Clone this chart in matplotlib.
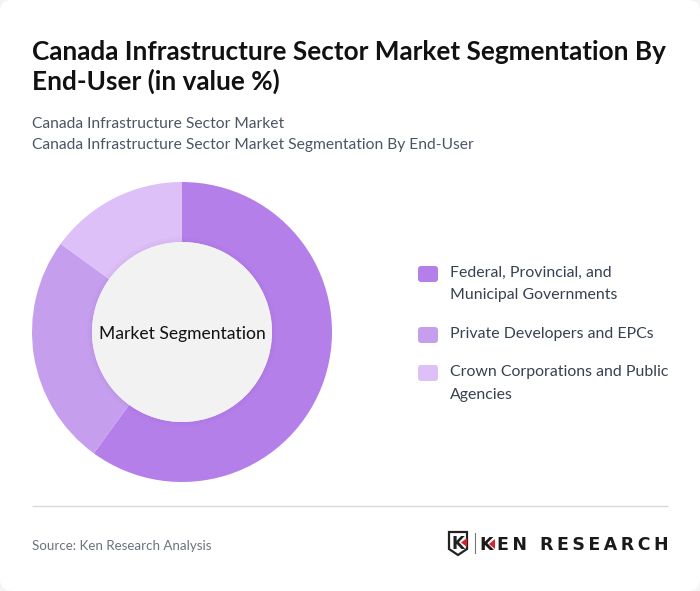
#!/usr/bin/env python3
"""Canada infrastructure end-user segmentation donut, drawn in pixel coordinates."""
import matplotlib
matplotlib.use('Agg')
import matplotlib.pyplot as plt
from matplotlib.patches import Circle, FancyBboxPatch, Polygon

W, H = 700, 591

title_lines = ["Canada Infrastructure Sector Market Segmentation By", "End-User (in value %)"]
subtitle_lines = ["Canada Infrastructure Sector Market", "Canada Infrastructure Sector Market Segmentation By End-User"]
center_label = "Market Segmentation"
source_text = "Source: Ken Research Analysis"
logo_text = "KEN RESEARCH"

segments = ["Federal, Provincial, and\nMunicipal Governments",
            "Private Developers and EPCs",
            "Crown Corporations and Public\nAgencies"]
shares = [60, 25, 15]
colors = ["#b57fea", "#c59eee", "#dcc0f7"]


def py(y):
    # picture rows run downward, the axes run upward
    return H - y


plt.rcParams['font.family'] = ['Lato', 'DejaVu Sans']
fig = plt.figure(figsize=(7.0, 5.91), dpi=100, facecolor='#f4f4f6')
ax = fig.add_axes([0, 0, 1, 1])

# white card with rounded corners
card = FancyBboxPatch((0, 0), W, H, boxstyle="round,pad=0,rounding_size=12",
                      facecolor='white', edgecolor='none', zorder=0)
ax.add_patch(card)

for i, line in enumerate(title_lines):
    ax.text(32, py(60 + i * 30), line, fontsize=18.83, fontweight='bold', color='#111111', va='baseline')
for i, line in enumerate(subtitle_lines):
    ax.text(32, py(128 + i * 21), line, fontsize=11.27, color='#4b5563', va='baseline')

# donut
cx, cy = 182, py(332)
ax.pie(shares, colors=colors, startangle=90, counterclock=False, center=(cx, cy), radius=150,
       wedgeprops=dict(width=60, linewidth=0))
for r, a in [(95, 0.015), (93, 0.025), (91, 0.03)]:
    ax.add_patch(Circle((cx, cy), r, facecolor='#6b3fa0', edgecolor='none', alpha=a, zorder=3))
ax.add_patch(Circle((cx, cy), 90, facecolor='#f2f2f2', edgecolor='none', zorder=4))
ax.text(cx, py(334), center_label, fontsize=12.6, color='#111111', ha='center', va='center', zorder=5)

# legend
swatch_tops = [266, 327, 365]
text_rows = [[277, 299], [338], [376, 399]]
for name, color, top, rows in zip(segments, colors, swatch_tops, text_rows):
    ax.add_patch(FancyBboxPatch((418, py(top + 16)), 20, 16, boxstyle="round,pad=0,rounding_size=3",
                                facecolor=color, edgecolor='none'))
    for line, row in zip(name.split("\n"), rows):
        ax.text(450, py(row), line, fontsize=11.46, color='#374151', va='baseline')

# footer
ax.plot([32, 668], [py(506), py(506)], color='#d9d9d9', linewidth=1, solid_capstyle='butt')
ax.text(32, py(550), source_text, fontsize=9.62, color='#6b7280', va='baseline')

# logo
shield = [(449, py(532)), (467, py(532)), (467, py(549)), (458, py(555)), (449, py(549))]
ax.add_patch(Polygon(shield, closed=True, facecolor='none', edgecolor='#222222', linewidth=1.6))
ax.text(458, py(549), "K", fontsize=12, fontweight='bold', color='#222222', ha='center', va='baseline',
        family='DejaVu Sans')
ax.add_patch(Polygon([(467, py(538)), (467, py(547)), (461, py(542.5))], closed=True,
                     facecolor='#d8232a', edgecolor='none'))
ax.plot([474.5, 474.5], [py(533), py(553)], color='#777777', linewidth=0.8)
ax.text(480, py(550.5), "\u2009".join(logo_text), fontsize=12.5, fontweight='bold', color='#1a1a1a',
        va='baseline', family='DejaVu Sans')
ax.add_patch(Polygon([(495, py(539)), (495, py(549)), (489, py(544))], closed=True,
                     facecolor='#d8232a', edgecolor='none', zorder=6))

ax.set_xlim(0, W)
ax.set_ylim(0, H)
ax.set_aspect('auto')
ax.axis('off')

fig.savefig('out.png', dpi=100, facecolor=fig.get_facecolor())
plt.close(fig)
